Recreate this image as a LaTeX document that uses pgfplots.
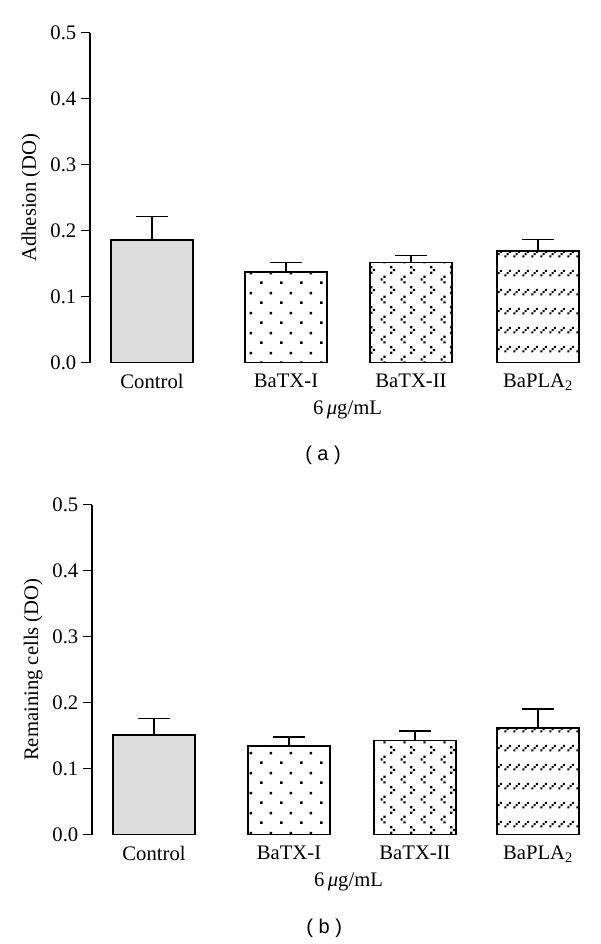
\documentclass[border=0pt]{standalone}
\usepackage{fontspec}
\setmainfont{Liberation Serif}
\newfontfamily\sansf{Liberation Sans}
\usepackage{pgfplots}
\pgfplotsset{compat=1.18}
\usetikzlibrary{patterns}
\definecolor{ctrl}{RGB}{220,220,220}

% staggered sparse dots (BaTX-I)
\pgfdeclarepatternformonly{sparsedots}{\pgfqpoint{0pt}{0pt}}{\pgfqpoint{15pt}{15pt}}{\pgfqpoint{15pt}{15pt}}{%
  \pgfpathrectangle{\pgfqpoint{0pt}{0pt}}{\pgfqpoint{2pt}{2pt}}%
  \pgfpathrectangle{\pgfqpoint{7.5pt}{7.5pt}}{\pgfqpoint{2pt}{2pt}}%
  \pgfusepath{fill}}
% chevrons (BaTX-II)
\pgfdeclarepatternformonly{chevrons}{\pgfqpoint{0pt}{0pt}}{\pgfqpoint{15pt}{15pt}}{\pgfqpoint{15pt}{15pt}}{%
  \pgfpathrectangle{\pgfqpoint{2.6pt}{0.4pt}}{\pgfqpoint{1.7pt}{1.7pt}}%
  \pgfpathrectangle{\pgfqpoint{0.4pt}{2.6pt}}{\pgfqpoint{1.7pt}{1.7pt}}%
  \pgfpathrectangle{\pgfqpoint{2.6pt}{4.8pt}}{\pgfqpoint{1.7pt}{1.7pt}}%
  \pgfpathrectangle{\pgfqpoint{7.9pt}{7.9pt}}{\pgfqpoint{1.7pt}{1.7pt}}%
  \pgfpathrectangle{\pgfqpoint{10.1pt}{10.1pt}}{\pgfqpoint{1.7pt}{1.7pt}}%
  \pgfpathrectangle{\pgfqpoint{7.9pt}{12.3pt}}{\pgfqpoint{1.7pt}{1.7pt}}%
  \pgfusepath{fill}}
% rows of dotted slashes (BaPLA2)
\pgfdeclarepatternformonly{slashrows}{\pgfqpoint{0pt}{0pt}}{\pgfqpoint{6.75pt}{14.25pt}}{\pgfqpoint{6.75pt}{14.25pt}}{%
  \pgfpathrectangle{\pgfqpoint{0.4pt}{2pt}}{\pgfqpoint{1.6pt}{1.6pt}}%
  \pgfpathrectangle{\pgfqpoint{2.2pt}{3.8pt}}{\pgfqpoint{1.6pt}{1.6pt}}%
  \pgfpathrectangle{\pgfqpoint{4.0pt}{5.6pt}}{\pgfqpoint{1.6pt}{1.6pt}}%
  \pgfusepath{fill}}

\pgfplotsset{
  panel/.style={
    scale only axis,
    height=247.5pt,
    ymin=0, ymax=0.5,
    ytick={0,0.1,0.2,0.3,0.4,0.5},
    axis x line=bottom, axis y line=left,
    axis line style={-, line width=0.9pt},
    x axis line style={draw=none},
    xtick style={draw=none},
    ytick style={line width=0.9pt, black},
    tick align=outside,
    major tick length=6.75pt,
    yticklabel style={/pgf/number format/.cd, fixed, fixed zerofill, precision=1},
    /pgf/number format/assume math mode=true,
    tick label style={font=\fontsize{15.5}{18}\selectfont},
    xticklabel style={yshift=2pt},
    label style={font=\fontsize{15.5}{18}\selectfont},
    xticklabels={Control,BaTX-I,BaTX-II,BaPLA\textsubscript{2}},
    xlabel={6\,{\itshape μ}g/mL},
    xlabel style={at={(axis description cs:0.505,-0.143)}, anchor=center},
    ylabel style={at={(axis description cs:-0.116,0.5)}, anchor=center},
    clip=false,
  },
  barst/.style={ybar, bar width=61.5pt, bar shift=0pt, draw=black, line width=1.2pt,
    error bars/y dir=plus, error bars/y explicit,
    error bars/error bar style={line width=0.9pt, black},
    error bars/error mark options={rotate=90, mark size=12pt, line width=0.9pt, black}},
}

\begin{document}
\begin{tikzpicture}
\path[use as bounding box, fill=white] (0,0) rectangle (450pt,708pt);

\begin{axis}[panel, at={(67.5pt,436pt)}, anchor=south west,
  width=382.5pt, xmin=90, xmax=600,
  xtick={152,286,411,538},
  ylabel={Adhesion (DO)}]
\addplot[barst, fill=ctrl] coordinates {(152,0.186) +- (0,0.035)};
\addplot[barst, pattern=sparsedots] coordinates {(286,0.137) +- (0,0.015)};
\addplot[barst, pattern=chevrons] coordinates {(411,0.152) +- (0,0.010)};
\addplot[barst, pattern=slashrows] coordinates {(538,0.1695) +- (0,0.0175)};
\node[font=\sansf\fontsize{15}{18}\selectfont] at (rel axis cs:0.457,-0.282) {( a )};
\end{axis}

\begin{axis}[panel, at={(69pt,82pt)}, anchor=south west,
  width=381pt, xmin=92, xmax=600,
  xtick={154,289,415,538},
  ylabel={Remaining cells (DO)}]
\addplot[barst, fill=ctrl] coordinates {(154,0.151) +- (0,0.025)};
\addplot[barst, pattern=sparsedots] coordinates {(289,0.1346) +- (0,0.0134)};
\addplot[barst, pattern=chevrons] coordinates {(415,0.1427) +- (0,0.0143)};
\addplot[barst, pattern=slashrows] coordinates {(538,0.162) +- (0,0.0285)};
\node[font=\sansf\fontsize{15}{18}\selectfont] at (rel axis cs:0.457,-0.284) {( b )};
\end{axis}
\end{tikzpicture}
\end{document}
